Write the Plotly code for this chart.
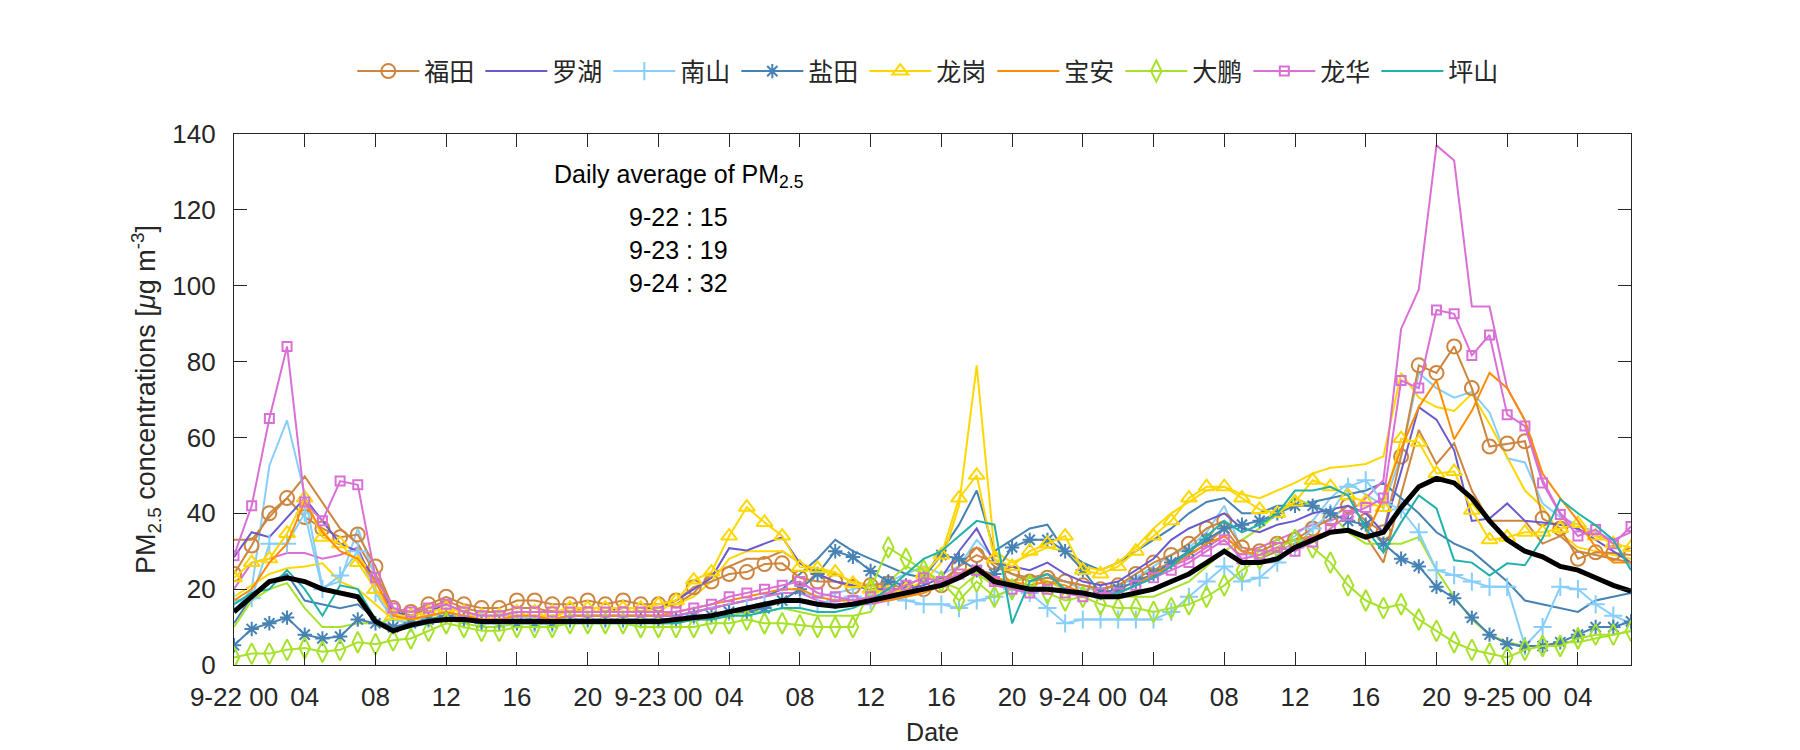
import plotly.graph_objects as go

hours = list(range(80))
tick_hours = [0, 4, 8, 12, 16, 20, 24, 28, 32, 36, 40, 44, 48, 52, 56, 60, 64, 68, 72, 76]
tick_labels = ["9-22 00", "04", "08", "12", "16", "20", "9-23 00", "04", "08", "12", "16", "20",
               "9-24 00", "04", "08", "12", "16", "20", "9-25 00", "04"]

futian_a = [24, 31.5, 40, 44, 39, 36, 33.7, 34.4, 26, 15,
            14, 16, 18, 16, 15, 15, 17, 17, 16, 16,
            17, 16, 17, 16, 16, 17, 20.5, 22, 24, 24.5,
            26.6, 26.8, 23, 22, 22, 20.6, 21, 21.5, 20, 20,
            21, 26, 29, 27, 24, 22, 23, 22, 21, 20,
            21, 24, 27, 29, 32, 36, 38, 31, 30, 32,
            33, 36, 38.6, 42, 38, 35, 55, 79, 77, 84,
            73, 57.6, 58.4, 59, 38.6, 36, 28, 29.7, 29.5, 29]
futian_b = [33, 33, 39, 44, 49.7, 43, 36, 32, 24, 15,
            13, 15, 17, 15, 14, 14, 15, 15, 14, 14,
            15, 15, 15, 15, 15, 16, 19, 24, 26, 28,
            28, 30, 27, 24, 22, 21, 20, 19, 19, 20,
            22, 26, 31, 26, 24, 23, 24, 22, 21, 20,
            21, 23, 25, 27, 29, 32, 36, 30, 28, 30,
            32, 34, 35, 36, 34, 27, 45, 62, 53, 58.5,
            46, 38, 38, 38, 32, 34, 30, 29, 28, 27]
luohu = [28.4, 35, 33.7, 39, 44, 38, 32, 30, 22, 14,
         13, 14, 16, 14, 13, 13, 14, 14, 14, 14,
         14, 14, 15, 15, 15, 17, 20, 23, 30.8, 30.2,
         32, 33.7, 26.8, 24, 22, 21, 20, 20, 20, 21,
         23, 30, 36, 27, 26, 25, 27, 24, 22, 21,
         22, 25, 28, 33, 36, 38, 40, 36, 35, 37,
         38, 40, 41, 42, 40, 35, 51, 68, 64.7, 56.6,
         38, 38.6, 42.6, 38, 37.6, 37, 36, 33, 30, 27]
nanshan_a = [17, 17.6, 32, 32, 40, 20, 23.6, 30, 19, 12,
             11, 12, 13, 12, 12, 12, 12, 11, 11, 12,
             12, 12, 12, 12, 12, 12, 13, 13, 14, 15,
             16, 17, 17, 16, 17, 18, 17, 18, 17, 16,
             16, 15, 17, 18, 20, 19, 15, 11, 12, 12,
             12, 12, 12, 14, 18, 22, 26, 22, 23, 27,
             31, 36, 40, 47, 48.7, 43, 41, 35, 25, 23.7,
             22, 20.6, 20.6, 5, 10, 20.6, 20, 16, 13, 11]
nanshan_b = [14, 20, 52.6, 64.5, 45, 20.5, 22, 36, 23, 13,
             12, 13, 14, 13, 13, 13, 13, 12, 12, 13,
             13, 13, 13, 13, 13, 13, 14, 15, 16, 17,
             18, 19, 19, 18, 19, 20, 21, 22, 24, 26,
             24, 26, 33, 28, 24, 22, 23, 22, 20, 20,
             21, 23, 26, 29, 31, 35, 42, 30, 28, 31,
             34, 38, 44, 48, 45, 42, 55, 77, 73, 70.5,
             72, 66.6, 54.5, 53.4, 42.6, 39, 37, 35, 33, 26]
yantian_a = [5.2, 9.5, 11, 12.5, 8, 7, 7.5, 12, 11, 10,
             11, 12, 13, 12, 11, 11, 11, 11, 11, 12,
             12, 12, 12, 12, 12, 12, 13, 13, 14, 14,
             15, 17, 20, 24, 30, 28.5, 24.8, 22, 21, 23,
             29, 28, 25, 24, 31, 33, 33, 30, 25, 19,
             20, 22, 24, 27, 30, 33, 36, 37, 38, 40,
             42, 42, 40, 38, 37, 32, 28, 26, 20.6, 17.6,
             12.5, 8, 5.5, 5, 5, 6, 8, 10, 10, 11.5]
yantian_b = [11, 18, 22, 24, 17, 16, 15, 16, 12, 10,
             11, 12, 13, 13, 12, 12, 12, 12, 12, 13,
             13, 13, 13, 13, 13, 13, 14, 15, 16, 17,
             18, 20, 24, 28, 33, 30, 28, 26, 24, 23,
             30, 37, 46, 30, 33, 36, 37, 30, 27, 25,
             27, 30, 33, 36, 40, 43, 44, 40, 40, 42,
             42, 43, 44, 45, 46, 48, 44, 40, 35, 32,
             30, 26, 22, 17, 16, 15, 14, 17, 18, 19]
longgang_a = [23, 27, 28, 34.7, 44, 33.7, 32, 27, 20, 13,
              13, 14, 15, 14, 13, 13, 14, 14, 14, 15,
              15, 15, 15, 15, 16, 17, 22.4, 24.5, 34, 41.6,
              37.6, 34, 25.8, 25.5, 24.5, 21.5, 20, 19, 20, 24,
              29, 44, 50, 28, 26, 30, 32, 34, 25, 24,
              26, 30, 34, 38, 44, 47, 47, 44, 41, 40,
              43, 48.7, 47, 44.6, 43, 41.5, 59.7, 58.7, 50.5, 51,
              40.8, 33, 33.7, 35, 35, 36, 37.3, 34, 32, 31]
longgang_b = [18, 21, 24, 25.5, 26, 26.8, 22, 20, 16, 12,
              12, 13, 14, 13, 12, 12, 13, 13, 13, 14,
              14, 14, 14, 14, 15, 16, 18, 22, 28, 30,
              30, 30, 27, 25, 24, 22, 21, 20, 20, 22,
              27, 42, 79, 30, 27, 29, 31, 30, 26, 25,
              27, 31, 36, 40, 43, 46, 47, 45, 44, 46,
              48, 50.5, 52, 52.4, 53, 55, 77, 70.5, 68, 67,
              71.5, 63.6, 55, 46, 41.6, 34.7, 31, 30, 29, 28]
baoan = [17, 20, 27, 32, 43, 35, 30, 28, 22, 13,
         12, 13, 14, 13, 12, 12, 13, 13, 12, 13,
         13, 13, 13, 13, 13, 14, 15, 16, 17, 18,
         19, 20, 20, 18, 17, 17, 17, 17, 18, 19,
         21, 24, 26, 23, 22, 21, 22, 21, 19, 18,
         19, 21, 24, 26, 29, 32, 34, 30, 29, 31,
         33, 34, 35, 35.5, 34, 44, 57, 68, 75, 59.5,
         67, 77, 73, 64.5, 50.5, 44, 38, 31, 27, 27]
dapeng_a = [2, 3, 3, 4, 4.5, 3.5, 4, 6, 5.5, 6.5,
            7, 9, 11, 10, 9, 9, 10, 10, 10, 11,
            11, 11, 11, 10, 10, 10, 10, 11, 11, 12,
            11, 11, 10.5, 10, 10, 10, 20, 31, 28, 25,
            22, 17, 22, 18, 20, 21, 19, 17, 18, 16,
            15, 15, 14, 15, 16, 18, 21, 25, 28, 31,
            33, 31, 27, 21, 17, 15, 16, 12, 9, 6,
            4, 3, 2, 4, 5, 5, 7, 8, 8, 9]
dapeng_b = [10, 17, 20, 21.6, 15, 10, 10, 11, 11, 12,
            11, 11, 12, 11, 10, 10, 11, 11, 11, 11,
            11, 11, 11, 11, 11, 11, 12, 12, 13, 14,
            14, 15, 14, 13, 13, 13, 14, 22, 26, 24,
            22, 20, 24, 21, 22, 23, 22, 20, 19, 18,
            18, 18, 18, 20, 22, 26, 30, 33, 36, 40,
            44, 42, 40, 35, 32, 32, 32, 33.7, 25, 18,
            12, 8, 6, 5, 5, 6, 6, 7, 8, 9]
longhua_a = [28.8, 42, 65, 84, 43, 38, 48.5, 47.5, 23, 15,
             14, 15, 16, 14, 13, 13, 14, 14, 14, 14,
             14, 14, 14, 14, 14, 14, 15, 16, 18, 19,
             20, 21, 22, 19, 18, 17, 18, 19, 21, 23,
             22, 24, 25, 22, 20, 19, 20, 19, 18, 19,
             19, 21, 23, 25, 27, 30, 33, 28, 29, 31,
             30, 32.4, 36, 39.5, 41.5, 44, 75, 73, 93.6, 92.6,
             81.6, 87, 66, 63, 48, 39.7, 34, 35.7, 32, 36.5]
longhua_b = [20, 27, 28, 29.5, 29.5, 28, 29, 31, 20, 13,
             12, 13, 14, 13, 12, 12, 12, 12, 12, 13,
             13, 13, 13, 13, 13, 13, 14, 15, 16, 17,
             18, 19, 19, 17, 16, 16, 16, 17, 18, 20,
             22, 24, 26, 21, 20, 19, 20, 19, 18, 19,
             20, 22, 24, 26, 28, 31, 34, 30, 31, 33,
             35, 37, 38, 40, 44, 48.7, 88.6, 99, 137, 133,
             94.5, 94.5, 73, 64.5, 48.7, 40, 35.5, 34, 33, 35]
pingshan = [16, 19, 20, 25, 20, 13, 21, 20, 12, 9,
            10, 11, 12, 12, 11, 11, 11, 11, 11, 11,
            11, 11, 11, 11, 11, 11, 12, 12, 13, 13,
            14, 15, 15, 14, 14, 15, 17, 20, 24, 28,
            30, 34, 38, 37, 11, 22, 24, 20, 19, 18,
            19, 21, 23, 26, 30, 34, 38, 35, 37, 40,
            46, 46, 47, 44.7, 36, 29.7, 37.6, 44.7, 41.3, 27.6,
            27, 23.6, 26.8, 26.3, 33.4, 43.7, 40, 36.8, 33, 25]
mean_all = [14, 18, 22, 23, 22, 20, 19, 18, 11.5, 9,
            10.5, 11.5, 12, 12, 11.5, 11.5, 11.5, 11.5, 11.5, 11.5,
            11.5, 11.5, 11.5, 11.5, 11.5, 12, 12.5, 13, 14, 15,
            16, 17, 17, 16, 15.5, 16, 17, 18, 19, 20,
            21, 23, 25.5, 22, 21, 20, 20, 19.5, 19, 18,
            18, 19, 20, 22, 24, 27, 30, 27, 27, 28,
            31, 33, 35, 35.5, 33.7, 35, 41.5, 47, 49.2, 48,
            44, 38, 33, 30, 28.5, 26, 25, 23, 21, 19.5]

districts = ["福田", "罗湖", "南山", "盐田", "龙岗", "宝安", "大鹏", "龙华", "坪山"]
colors = ["#CD853F", "#6A5ACD", "#87CEFA", "#4682B4", "#FFD700", "#FF8C00", "#A6E22A", "#DA70D6", "#20B2AA"]
symbols = ["circle-open", None, "cross-thin-open", "asterisk-open", "triangle-up-open", None,
           "diamond-tall-open", "square-open", None]
msizes = [14, 0, 13, 12, 14, 0, 15, 9, 0]
main_series = [futian_a, luohu, nanshan_a, yantian_a, longgang_a, baoan, dapeng_a, longhua_a, pingshan]
extra_series = [futian_b, None, nanshan_b, yantian_b, longgang_b, None, dapeng_b, longhua_b, None]

fig = go.Figure()

for i, name in enumerate(districts):
    if extra_series[i] is not None:
        fig.add_trace(go.Scatter(x=hours, y=extra_series[i], mode="lines", name=name,
                                 legendgroup=name, showlegend=False,
                                 line=dict(color=colors[i], width=2)))

for i, name in enumerate(districts):
    if symbols[i]:
        fig.add_trace(go.Scatter(x=hours, y=main_series[i], mode="lines+markers", name=name,
                                 legendgroup=name,
                                 line=dict(color=colors[i], width=2),
                                 marker=dict(symbol=symbols[i], size=msizes[i],
                                             color=colors[i], line=dict(color=colors[i], width=2))))
    else:
        fig.add_trace(go.Scatter(x=hours, y=main_series[i], mode="lines", name=name,
                                 legendgroup=name,
                                 line=dict(color=colors[i], width=2)))

fig.add_trace(go.Scatter(x=hours, y=mean_all, mode="lines", name="mean", showlegend=False,
                         line=dict(color="black", width=5)))

axis_common = dict(showline=True, linecolor="#262626", linewidth=1.3, mirror="ticks",
                   ticks="inside", ticklen=13, tickwidth=1.3, tickcolor="#262626",
                   showgrid=False, zeroline=False,
                   tickfont=dict(size=26, color="#262626", family="Liberation Sans"))

fig.update_layout(
    width=1800, height=750,
    paper_bgcolor="white", plot_bgcolor="white",
    margin=dict(l=226, r=177, t=126, b=93, autoexpand=False),
    font=dict(family="Liberation Sans, Noto Sans CJK SC", size=24, color="#262626"),
    xaxis=dict(range=[0, 79], tickvals=tick_hours, ticktext=tick_labels,
               ticklabelstandoff=9,
               title=dict(text="Date", standoff=12, font=dict(size=25)), **axis_common),
    yaxis=dict(range=[0, 140], tickvals=[0, 20, 40, 60, 80, 100, 120, 140],
               ticklabelstandoff=12,
               title=dict(text="PM<sub>2.5</sub> concentrations [<i>μ</i>g m<sup>-3</sup>]",
                          standoff=8, font=dict(size=27)), **axis_common),
    legend=dict(orientation="h", x=0.497, xanchor="center", y=1.118, yanchor="middle",
                itemwidth=62, entrywidth=51, entrywidthmode="pixels",
                font=dict(size=25, family="Noto Sans CJK SC", color="#262626"),
                bgcolor="rgba(0,0,0,0)", traceorder="normal"),
    showlegend=True,
)

ann_x = 0.3185
fig.add_annotation(x=ann_x, y=0.921, xref="paper", yref="paper", showarrow=False,
                   xanchor="center", yanchor="middle",
                   text="Daily average of PM<sub>2.5</sub>", font=dict(size=25, color="black"))
daily_labels = ["9-22 : 15", "9-23 : 19", "9-24 : 32"]
daily_y = [0.844, 0.782, 0.719]
for t, yy in zip(daily_labels, daily_y):
    fig.add_annotation(x=ann_x, y=yy, xref="paper", yref="paper", showarrow=False,
                       xanchor="center", yanchor="middle",
                       text=t, font=dict(size=25, color="black"))

fig.write_html("out.html")
